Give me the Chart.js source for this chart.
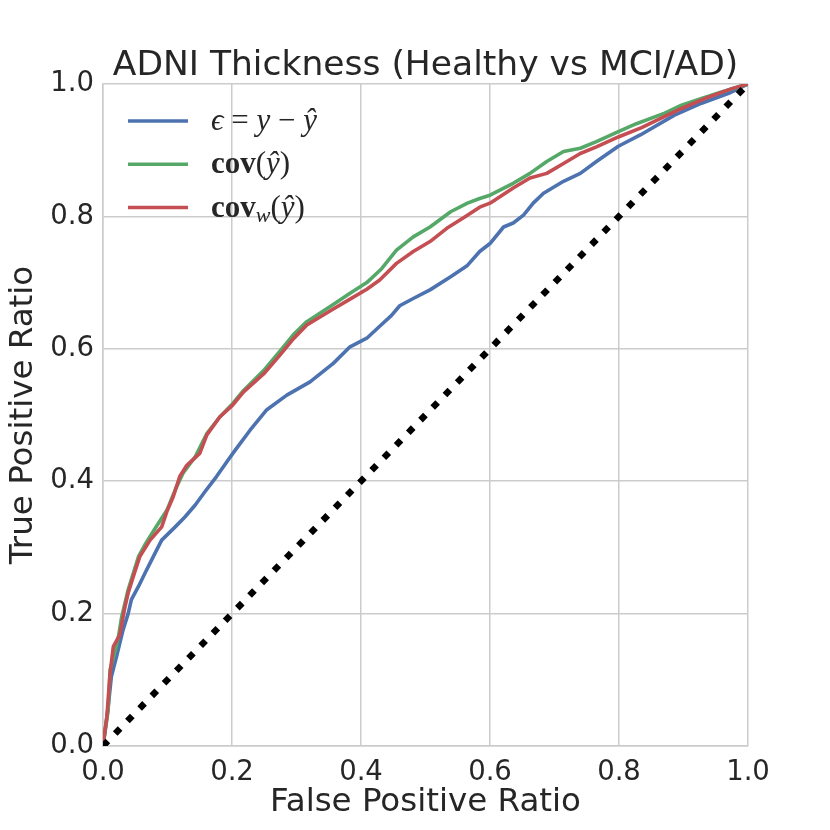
<!DOCTYPE html>
<html>
<head>
<meta charset="utf-8">
<script src="https://cdn.jsdelivr.net/npm/chart.js@4.4.1/dist/chart.umd.min.js"></script>
<style>
  body { margin: 0; background: #fff; }
  #wrap { width: 830px; height: 830px; }
</style>
</head>
<body>
<div id="wrap"><canvas id="roc" width="830" height="830"></canvas></div>
<script>
// ROC curves
const chartTitle = 'ADNI Thickness (Healthy vs MCI/AD)';
const xTitle = 'False Positive Ratio';
const yTitle = 'True Positive Ratio';
const tickLabels = ['0.0', '0.2', '0.4', '0.6', '0.8', '1.0'];

const fprBlue = [0, 0.008, 0.013, 0.021, 0.026, 0.031, 0.039, 0.044, 0.055, 0.065, 0.078, 0.091, 0.112, 0.127, 0.143, 0.158, 0.176, 0.194, 0.205, 0.228, 0.254, 0.285, 0.321, 0.357, 0.383, 0.409, 0.429, 0.447, 0.460, 0.481, 0.507, 0.539, 0.565, 0.584, 0.600, 0.621, 0.636, 0.652, 0.667, 0.683, 0.714, 0.740, 0.765, 0.799, 0.833, 0.886, 0.928, 0.970, 1.0];
const tprBlue = [0, 0.059, 0.105, 0.135, 0.155, 0.175, 0.200, 0.221, 0.241, 0.261, 0.286, 0.311, 0.331, 0.346, 0.364, 0.384, 0.407, 0.432, 0.447, 0.477, 0.508, 0.530, 0.550, 0.578, 0.603, 0.616, 0.634, 0.650, 0.665, 0.676, 0.689, 0.709, 0.726, 0.747, 0.759, 0.784, 0.790, 0.802, 0.820, 0.835, 0.853, 0.865, 0.883, 0.906, 0.923, 0.953, 0.971, 0.986, 1.0];

const fprGreen = [0, 0.008, 0.011, 0.019, 0.024, 0.029, 0.039, 0.055, 0.065, 0.081, 0.099, 0.112, 0.124, 0.143, 0.161, 0.181, 0.201, 0.218, 0.249, 0.274, 0.295, 0.316, 0.357, 0.383, 0.409, 0.432, 0.455, 0.481, 0.507, 0.539, 0.565, 0.584, 0.600, 0.636, 0.662, 0.688, 0.714, 0.740, 0.765, 0.799, 0.827, 0.871, 0.897, 0.928, 0.959, 1.0];
const tprGreen = [0, 0.054, 0.115, 0.145, 0.165, 0.195, 0.236, 0.286, 0.304, 0.329, 0.356, 0.387, 0.412, 0.437, 0.472, 0.497, 0.517, 0.537, 0.567, 0.596, 0.621, 0.641, 0.667, 0.684, 0.700, 0.721, 0.749, 0.769, 0.784, 0.807, 0.820, 0.827, 0.832, 0.850, 0.865, 0.883, 0.898, 0.903, 0.913, 0.928, 0.940, 0.956, 0.968, 0.978, 0.988, 1.0];

const fprRed = [0, 0.006, 0.011, 0.016, 0.026, 0.034, 0.039, 0.047, 0.057, 0.073, 0.091, 0.099, 0.109, 0.119, 0.130, 0.150, 0.161, 0.181, 0.201, 0.218, 0.249, 0.274, 0.295, 0.316, 0.357, 0.383, 0.409, 0.429, 0.455, 0.481, 0.507, 0.533, 0.559, 0.584, 0.600, 0.636, 0.662, 0.688, 0.714, 0.740, 0.765, 0.799, 0.835, 0.871, 0.897, 0.933, 0.975, 1.0];
const tprRed = [0, 0.044, 0.110, 0.150, 0.168, 0.210, 0.231, 0.256, 0.286, 0.311, 0.331, 0.354, 0.377, 0.407, 0.424, 0.442, 0.470, 0.497, 0.515, 0.535, 0.562, 0.590, 0.615, 0.636, 0.660, 0.675, 0.690, 0.704, 0.729, 0.747, 0.762, 0.782, 0.798, 0.814, 0.820, 0.843, 0.858, 0.865, 0.880, 0.895, 0.905, 0.920, 0.934, 0.951, 0.963, 0.978, 0.993, 1.0];

const fprChance = [0, 1];
const tprChance = [0, 1];

const seriesNames = ['ϵ = y − ŷ', 'cov(ŷ)', 'cov_w(ŷ)'];
const seriesColors = ['#4C72B0', '#55A868', '#C44E52'];

// math-ish legend text, split in pieces with their own font
const it = 'italic 31px "Liberation Serif", "DejaVu Serif", serif',
    rm = '31px "Liberation Serif", "DejaVu Serif", serif',
    bf = 'bold 31px "Liberation Serif", "DejaVu Serif", serif',
    sub = 'italic 22px "Liberation Serif", "DejaVu Serif", serif';
const legendRich = [
    [['ϵ', it], [' = ', rm], ['y', it], [' \u2212 ', rm], ['ŷ', it]],
    [['cov', bf], ['(', rm], ['ŷ', it], [')', rm]],
    [['cov', bf], ['w', sub, 5], ['(', rm], ['ŷ', it], [')', rm]]
];

const zip = (xs, ys) => xs.map((x, i) => ({ x: x, y: ys[i] }));

const curve = (label, xs, ys, color, order) => {
    return {
        label,
        data: zip(xs, ys),
        borderColor: color,
        backgroundColor: color,
        borderWidth: 3.6,
        borderJoinStyle: 'round',
        pointRadius: 0,
        tension: 0,
        order
    }
}

const titleOverArea = {
    id: 'titleOverArea',
    afterDraw(chart) {
        const { ctx, chartArea } = chart;
        ctx.save();
        ctx.font = '34.5px "DejaVu Sans"';
        ctx.fillStyle = '#262626';
        ctx.textAlign = 'center';
        ctx.textBaseline = 'alphabetic';
        ctx.fillText(chartTitle, (chartArea.left + chartArea.right) / 2, chartArea.top - 9);
        ctx.restore();
    }
};

const mathLegend = {
    id: 'mathLegend',
    afterDatasetsDraw(chart) {
        const { ctx, chartArea } = chart;
        ctx.save();
        for (let i = 0; i < legendRich.length; i++) {
            let y = chartArea.top + 37 + i * 43.3,
                x0 = chartArea.left + 25;
            ctx.strokeStyle = seriesColors[i];
            ctx.lineWidth = 3.5;
            ctx.beginPath();
            ctx.moveTo(x0, y);
            ctx.lineTo(x0 + 60, y);
            ctx.stroke();

            let x = x0 + 83;
            ctx.fillStyle = '#262626';
            ctx.textBaseline = 'alphabetic';
            ctx.textAlign = 'left';
            legendRich[i].forEach(([txt, font, dy]) => {
                ctx.font = font;
                ctx.fillText(txt, x, y + 9 + (dy || 0));
                x += ctx.measureText(txt).width;
            });
        }
        ctx.restore();
    }
};

const axisFont = { family: 'DejaVu Sans', size: 32.5 };
const tickFont = { family: 'DejaVu Sans', size: 27.5 };
const gridOpts = { color: '#cccccc', lineWidth: 1.5, drawTicks: false };
const borderOpts = { color: '#cccccc', width: 1.5 };

new Chart(document.getElementById('roc').getContext('2d'), {
    type: 'line',
    data: {
        datasets: [
            {
                label: 'chance',
                data: zip(fprChance, tprChance),
                borderColor: '#000000',
                borderWidth: 6.5,
                borderDash: [7, 10.5],
                borderCapStyle: 'butt',
                pointRadius: 0,
                order: 0
            },
            curve(seriesNames[0], fprBlue, tprBlue, seriesColors[0], 3),
            curve(seriesNames[1], fprGreen, tprGreen, seriesColors[1], 2),
            curve(seriesNames[2], fprRed, tprRed, seriesColors[2], 1)
        ]
    },
    options: {
        responsive: false,
        animation: false,
        devicePixelRatio: 1,
        layout: { padding: { left: 0, right: 82, top: 84, bottom: 0 } },
        plugins: {
            legend: { display: false },
            title: { display: false },
            tooltip: { enabled: false }
        },
        scales: {
            x: {
                type: 'linear',
                min: 0,
                max: 1,
                ticks: {
                    stepSize: 0.2,
                    padding: 10,
                    color: '#262626',
                    font: tickFont,
                    maxRotation: 0,
                    callback: (v) => tickLabels[Math.round(v * 5)]
                },
                grid: gridOpts,
                border: borderOpts,
                title: { display: true, text: xTitle, color: '#262626', font: axisFont, padding: { top: 0, bottom: 8 } },
                afterFit: (scale) => { scale.height = 84; }
            },
            y: {
                type: 'linear',
                min: 0,
                max: 1,
                ticks: {
                    stepSize: 0.2,
                    padding: 9,
                    color: '#262626',
                    font: tickFont,
                    callback: (v) => tickLabels[Math.round(v * 5)]
                },
                grid: gridOpts,
                border: borderOpts,
                title: { display: true, text: yTitle, color: '#262626', font: axisFont, padding: { top: 4, bottom: 0 } },
                afterFit: (scale) => { scale.width = 103; }
            }
        }
    },
    plugins: [mathLegend, titleOverArea]
});
</script>
</body>
</html>
